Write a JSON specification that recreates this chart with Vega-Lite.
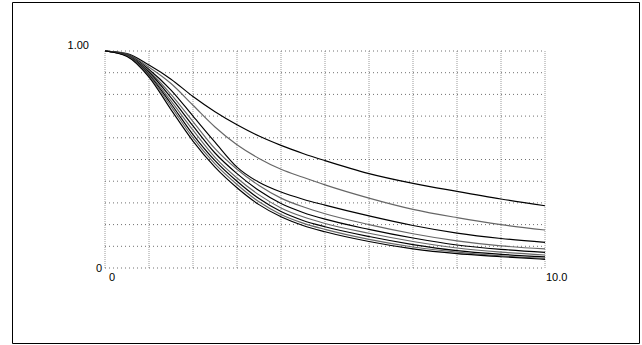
{
  "$schema": "https://vega.github.io/schema/vega-lite/v6.json",
  "width": 627,
  "height": 341,
  "autosize": {"type": "none"},
  "padding": {"left": 12, "top": 2, "right": 3, "bottom": 2},
  "background": "#ffffff",
  "config": {
    "view": {"stroke": "#000000", "strokeWidth": 1},
    "text": {"font": "Liberation Sans", "fontSize": 11, "color": "#000000"}
  },
  "datasets": {
    "vgrid": [{"t":0},{"t":1},{"t":2},{"t":3},{"t":4},{"t":5},{"t":6},{"t":7},{"t":8},{"t":9},{"t":10}],
    "hgrid": [{"v":0},{"v":0.1},{"v":0.2},{"v":0.3},{"v":0.4},{"v":0.5},{"v":0.6},{"v":0.7},{"v":0.8},{"v":0.9},{"v":1}],
    "runs": [
      {"t":0,"v":1,"r":"c1"},{"t":0.5,"v":0.988,"r":"c1"},{"t":1,"v":0.935,"r":"c1"},{"t":1.5,"v":0.87,"r":"c1"},{"t":2,"v":0.79,"r":"c1"},{"t":2.5,"v":0.72,"r":"c1"},{"t":3,"v":0.66,"r":"c1"},{"t":3.5,"v":0.608,"r":"c1"},{"t":4,"v":0.565,"r":"c1"},{"t":4.5,"v":0.528,"r":"c1"},{"t":5,"v":0.495,"r":"c1"},{"t":6,"v":0.435,"r":"c1"},{"t":7,"v":0.39,"r":"c1"},{"t":8,"v":0.353,"r":"c1"},{"t":9,"v":0.318,"r":"c1"},{"t":10,"v":0.287,"r":"c1"},
      {"t":0,"v":1,"r":"c2"},{"t":0.5,"v":0.986,"r":"c2"},{"t":1,"v":0.925,"r":"c2"},{"t":1.5,"v":0.85,"r":"c2"},{"t":2,"v":0.75,"r":"c2"},{"t":2.5,"v":0.65,"r":"c2"},{"t":3,"v":0.568,"r":"c2"},{"t":3.5,"v":0.505,"r":"c2"},{"t":4,"v":0.455,"r":"c2"},{"t":4.5,"v":0.418,"r":"c2"},{"t":5,"v":0.383,"r":"c2"},{"t":6,"v":0.322,"r":"c2"},{"t":7,"v":0.27,"r":"c2"},{"t":8,"v":0.232,"r":"c2"},{"t":9,"v":0.2,"r":"c2"},{"t":10,"v":0.175,"r":"c2"},
      {"t":0,"v":1,"r":"c3"},{"t":0.5,"v":0.984,"r":"c3"},{"t":1,"v":0.915,"r":"c3"},{"t":1.5,"v":0.82,"r":"c3"},{"t":2,"v":0.7,"r":"c3"},{"t":2.5,"v":0.58,"r":"c3"},{"t":3,"v":0.465,"r":"c3"},{"t":3.5,"v":0.395,"r":"c3"},{"t":4,"v":0.35,"r":"c3"},{"t":4.5,"v":0.317,"r":"c3"},{"t":5,"v":0.29,"r":"c3"},{"t":6,"v":0.24,"r":"c3"},{"t":7,"v":0.196,"r":"c3"},{"t":8,"v":0.161,"r":"c3"},{"t":9,"v":0.136,"r":"c3"},{"t":10,"v":0.118,"r":"c3"},
      {"t":0,"v":1,"r":"c4"},{"t":0.5,"v":0.982,"r":"c4"},{"t":1,"v":0.908,"r":"c4"},{"t":1.5,"v":0.8,"r":"c4"},{"t":2,"v":0.675,"r":"c4"},{"t":2.5,"v":0.55,"r":"c4"},{"t":3,"v":0.455,"r":"c4"},{"t":3.5,"v":0.38,"r":"c4"},{"t":4,"v":0.322,"r":"c4"},{"t":4.5,"v":0.282,"r":"c4"},{"t":5,"v":0.25,"r":"c4"},{"t":6,"v":0.2,"r":"c4"},{"t":7,"v":0.158,"r":"c4"},{"t":8,"v":0.125,"r":"c4"},{"t":9,"v":0.102,"r":"c4"},{"t":10,"v":0.088,"r":"c4"},
      {"t":0,"v":1,"r":"c5"},{"t":0.5,"v":0.98,"r":"c5"},{"t":1,"v":0.902,"r":"c5"},{"t":1.5,"v":0.785,"r":"c5"},{"t":2,"v":0.655,"r":"c5"},{"t":2.5,"v":0.53,"r":"c5"},{"t":3,"v":0.435,"r":"c5"},{"t":3.5,"v":0.357,"r":"c5"},{"t":4,"v":0.297,"r":"c5"},{"t":4.5,"v":0.256,"r":"c5"},{"t":5,"v":0.225,"r":"c5"},{"t":6,"v":0.178,"r":"c5"},{"t":7,"v":0.138,"r":"c5"},{"t":8,"v":0.106,"r":"c5"},{"t":9,"v":0.086,"r":"c5"},{"t":10,"v":0.072,"r":"c5"},
      {"t":0,"v":1,"r":"c6"},{"t":0.5,"v":0.979,"r":"c6"},{"t":1,"v":0.896,"r":"c6"},{"t":1.5,"v":0.77,"r":"c6"},{"t":2,"v":0.635,"r":"c6"},{"t":2.5,"v":0.51,"r":"c6"},{"t":3,"v":0.415,"r":"c6"},{"t":3.5,"v":0.337,"r":"c6"},{"t":4,"v":0.277,"r":"c6"},{"t":4.5,"v":0.236,"r":"c6"},{"t":5,"v":0.205,"r":"c6"},{"t":6,"v":0.16,"r":"c6"},{"t":7,"v":0.122,"r":"c6"},{"t":8,"v":0.092,"r":"c6"},{"t":9,"v":0.073,"r":"c6"},{"t":10,"v":0.06,"r":"c6"},
      {"t":0,"v":1,"r":"c7"},{"t":0.5,"v":0.978,"r":"c7"},{"t":1,"v":0.89,"r":"c7"},{"t":1.5,"v":0.757,"r":"c7"},{"t":2,"v":0.615,"r":"c7"},{"t":2.5,"v":0.495,"r":"c7"},{"t":3,"v":0.4,"r":"c7"},{"t":3.5,"v":0.32,"r":"c7"},{"t":4,"v":0.26,"r":"c7"},{"t":4.5,"v":0.219,"r":"c7"},{"t":5,"v":0.19,"r":"c7"},{"t":6,"v":0.145,"r":"c7"},{"t":7,"v":0.108,"r":"c7"},{"t":8,"v":0.08,"r":"c7"},{"t":9,"v":0.063,"r":"c7"},{"t":10,"v":0.051,"r":"c7"},
      {"t":0,"v":1,"r":"c8"},{"t":0.5,"v":0.977,"r":"c8"},{"t":1,"v":0.885,"r":"c8"},{"t":1.5,"v":0.745,"r":"c8"},{"t":2,"v":0.6,"r":"c8"},{"t":2.5,"v":0.48,"r":"c8"},{"t":3,"v":0.385,"r":"c8"},{"t":3.5,"v":0.305,"r":"c8"},{"t":4,"v":0.247,"r":"c8"},{"t":4.5,"v":0.207,"r":"c8"},{"t":5,"v":0.178,"r":"c8"},{"t":6,"v":0.132,"r":"c8"},{"t":7,"v":0.097,"r":"c8"},{"t":8,"v":0.073,"r":"c8"},{"t":9,"v":0.056,"r":"c8"},{"t":10,"v":0.045,"r":"c8"},
      {"t":0,"v":1,"r":"c9"},{"t":0.5,"v":0.975,"r":"c9"},{"t":1,"v":0.88,"r":"c9"},{"t":1.5,"v":0.73,"r":"c9"},{"t":2,"v":0.585,"r":"c9"},{"t":2.5,"v":0.465,"r":"c9"},{"t":3,"v":0.37,"r":"c9"},{"t":3.5,"v":0.292,"r":"c9"},{"t":4,"v":0.236,"r":"c9"},{"t":4.5,"v":0.196,"r":"c9"},{"t":5,"v":0.167,"r":"c9"},{"t":6,"v":0.122,"r":"c9"},{"t":7,"v":0.088,"r":"c9"},{"t":8,"v":0.066,"r":"c9"},{"t":9,"v":0.052,"r":"c9"},{"t":10,"v":0.04,"r":"c9"}
    ]
  },
  "layer": [
    {
      "data": {"name": "vgrid"},
      "mark": {"type": "rule", "color": "#9a9a9a", "strokeDash": [1, 1], "strokeWidth": 1},
      "encoding": {
        "x": {"field": "t", "type": "quantitative",
              "scale": {"domain": [0, 10], "range": [93, 533], "nice": false, "zero": false}, "axis": null},
        "y": {"datum": 0, "type": "quantitative",
              "scale": {"domain": [0, 1], "range": [266, 49], "nice": false, "zero": false}, "axis": null},
        "y2": {"datum": 1}
      }
    },
    {
      "data": {"name": "hgrid"},
      "mark": {"type": "rule", "color": "#707070", "strokeDash": [1, 3], "strokeWidth": 1},
      "encoding": {
        "y": {"field": "v", "type": "quantitative", "axis": null},
        "x": {"datum": 0, "type": "quantitative", "axis": null},
        "x2": {"datum": 10}
      }
    },
    {
      "data": {"name": "runs"},
      "mark": {"type": "line", "interpolate": "monotone", "strokeWidth": 1.15, "clip": false},
      "encoding": {
        "x": {"field": "t", "type": "quantitative", "axis": null},
        "y": {"field": "v", "type": "quantitative", "axis": null},
        "color": {
          "field": "r", "type": "nominal", "legend": null,
          "scale": {"domain": ["c1","c2","c3","c4","c5","c6","c7","c8","c9"],
                    "range": ["#000000","#666666","#000000","#666666","#000000","#666666","#000000","#666666","#000000"]}
        },
        "detail": {"field": "r"}
      }
    },
    {
      "data": {"values": [{"label": "1.00"}]},
      "mark": {"type": "text", "align": "right", "baseline": "middle", "dx": -16, "dy": -5},
      "encoding": {
        "x": {"datum": 0, "type": "quantitative"},
        "y": {"datum": 1, "type": "quantitative"},
        "text": {"field": "label"}
      }
    },
    {
      "data": {"values": [{"label": "0"}]},
      "mark": {"type": "text", "align": "right", "baseline": "middle", "dx": -3, "dy": 1},
      "encoding": {
        "x": {"datum": 0, "type": "quantitative"},
        "y": {"datum": 0, "type": "quantitative"},
        "text": {"field": "label"}
      }
    },
    {
      "data": {"values": [{"label": "0"}]},
      "mark": {"type": "text", "align": "left", "baseline": "middle", "dx": 4, "dy": 10},
      "encoding": {
        "x": {"datum": 0, "type": "quantitative"},
        "y": {"datum": 0, "type": "quantitative"},
        "text": {"field": "label"}
      }
    },
    {
      "data": {"values": [{"label": "10.0"}]},
      "mark": {"type": "text", "align": "left", "baseline": "middle", "dx": 1, "dy": 10},
      "encoding": {
        "x": {"datum": 10, "type": "quantitative"},
        "y": {"datum": 0, "type": "quantitative"},
        "text": {"field": "label"}
      }
    }
  ]
}
